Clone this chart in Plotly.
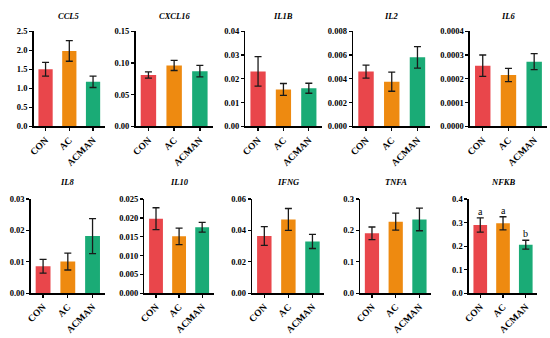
import plotly.graph_objects as go

groups = ["CON", "AC", "ACMAN"]
colors = ["#E9464B", "#EE8A10", "#1AAB76"]

genes = ["CCL5", "CXCL16", "IL1B", "IL2", "IL6", "IL8", "IL10", "IFNG", "TNFA", "NFKB"]

ccl5_mean = [1.50, 1.98, 1.17]
ccl5_err = [0.18, 0.27, 0.15]
cxcl16_mean = [0.081, 0.096, 0.087]
cxcl16_err = [0.005, 0.008, 0.009]
il1b_mean = [0.0231, 0.0155, 0.0160]
il1b_err = [0.0062, 0.0025, 0.0021]
il2_mean = [0.00460, 0.00375, 0.00580]
il2_err = [0.00055, 0.00080, 0.00090]
il6_mean = [0.000255, 0.000216, 0.000272]
il6_err = [0.000045, 0.000028, 0.000034]
il8_mean = [0.0086, 0.0101, 0.0182]
il8_err = [0.0022, 0.0027, 0.0056]
il10_mean = [0.0198, 0.0151, 0.0175]
il10_err = [0.0029, 0.0022, 0.0013]
ifng_mean = [0.0365, 0.0470, 0.0330]
ifng_err = [0.0060, 0.0070, 0.0045]
tnfa_mean = [0.191, 0.228, 0.235]
tnfa_err = [0.020, 0.027, 0.036]
nfkb_mean = [0.290, 0.297, 0.206]
nfkb_err = [0.030, 0.028, 0.019]
nfkb_letters = ["a", "a", "b"]

y_max = [2.5, 0.15, 0.04, 0.008, 0.0004, 0.03, 0.025, 0.06, 0.3, 0.4]
y_dtick = [0.5, 0.05, 0.01, 0.002, 0.0001, 0.01, 0.005, 0.02, 0.1, 0.1]
y_fmt = [".1f", ".2f", ".2f", ".3f", ".4f", ".2f", ".3f", ".2f", ".1f", ".1f"]

means = [ccl5_mean, cxcl16_mean, il1b_mean, il2_mean, il6_mean,
         il8_mean, il10_mean, ifng_mean, tnfa_mean, nfkb_mean]
errs = [ccl5_err, cxcl16_err, il1b_err, il2_err, il6_err,
        il8_err, il10_err, ifng_err, tnfa_err, nfkb_err]

W, H = 550, 338
x_px = [(28, 100), (131, 209), (242, 319), (351, 429), (469, 547),
        (25, 100), (140, 210), (249, 322), (358, 430), (468, 537)]
row_px = [(27, 125), (200, 297)]
title_px = [11, 182]

FONT = "Liberation Serif"
fig = go.Figure()
annotations = []
for i, g in enumerate(genes):
    r = 0 if i < 5 else 1
    n = i + 1
    xa = "x" if n == 1 else f"x{n}"
    ya = "y" if n == 1 else f"y{n}"
    fig.add_trace(go.Bar(
        x=groups, y=means[i], marker=dict(color=colors, line=dict(width=0)),
        width=0.6,
        error_y=dict(type="data", array=errs[i], color="#1a1a1a", thickness=1.3, width=3.5),
        xaxis=xa, yaxis=ya, showlegend=False, cliponaxis=False,
    ))
    x0, x1 = x_px[i]
    yt, yb = row_px[r]
    xd = [x0 / W, x1 / W]
    yd = [(H - yb) / H, (H - yt) / H]
    fig.layout[f"xaxis{'' if n == 1 else n}"] = dict(
        domain=xd, anchor=ya, range=[-0.5, 2.5], showline=True, linecolor="black",
        linewidth=1.5, ticks="outside", ticklen=3, tickwidth=1.3, tickcolor="black",
        tickangle=-45, tickfont=dict(family=FONT, size=9.5, color="black", weight="bold"),
        showgrid=False, zeroline=False, fixedrange=True,
    )
    fig.layout[f"yaxis{'' if n == 1 else n}"] = dict(
        domain=yd, anchor=xa, range=[0, y_max[i]], dtick=y_dtick[i], tick0=0,
        tickformat=y_fmt[i], showline=True, linecolor="black", linewidth=1.5,
        ticks="outside", ticklen=3, tickwidth=1.3, tickcolor="black",
        tickfont=dict(family=FONT, size=8.5, color="black", weight="bold"),
        showgrid=False, zeroline=False,
    )
    annotations.append(dict(
        text=f"<b><i>{g}</i></b>", x=(xd[0] + xd[1]) / 2, y=(H - title_px[r]) / H,
        xref="paper", yref="paper", xanchor="center", yanchor="middle",
        showarrow=False, font=dict(family=FONT, size=8.5, color="black"),
    ))

for j, lab in enumerate(nfkb_letters):
    annotations.append(dict(
        text=lab, x=groups[j], y=nfkb_mean[j] + nfkb_err[j], xref="x10", yref="y10",
        yanchor="bottom", showarrow=False, yshift=-1,
        font=dict(family=FONT, size=10, color="black"),
    ))

fig.update_layout(
    width=W, height=H, margin=dict(l=0, r=0, t=0, b=0),
    paper_bgcolor="white", plot_bgcolor="white",
    annotations=annotations, bargap=0.4, hovermode=False,
)
fig.write_html(
    "out.html",
    config={"displayModeBar": False, "staticPlot": True},
    post_script="document.body.style.margin='0px';document.body.style.overflow='hidden';",
)
